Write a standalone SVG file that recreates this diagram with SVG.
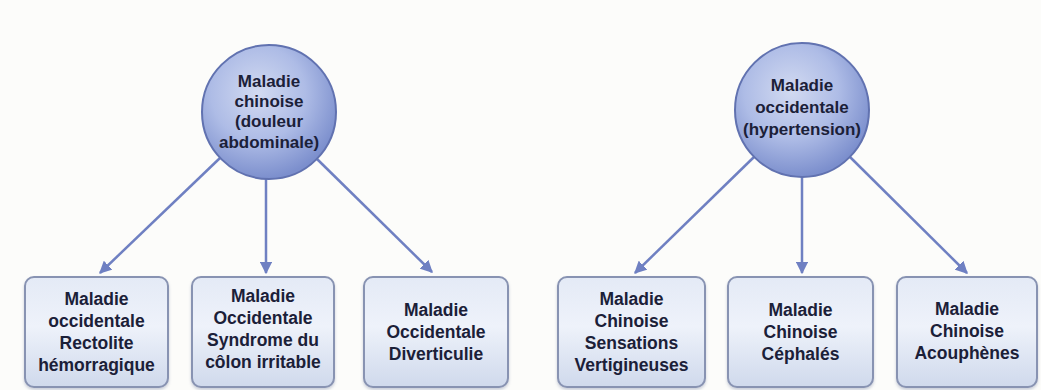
<svg xmlns="http://www.w3.org/2000/svg" width="1041" height="390" viewBox="0 0 1041 390">
  <defs>
    <radialGradient id="gCircle" cx="0.42" cy="0.36" r="0.64">
      <stop offset="0" stop-color="#d2daf1"/>
      <stop offset="0.55" stop-color="#aebce6"/>
      <stop offset="1" stop-color="#7c8fcd"/>
    </radialGradient>
    <linearGradient id="gBox" x1="0" y1="0" x2="0" y2="1">
      <stop offset="0" stop-color="#e4eaf6"/>
      <stop offset="0.45" stop-color="#eef2fa"/>
      <stop offset="1" stop-color="#cfd9ec"/>
    </linearGradient>
    <filter id="shadow" x="-10%" y="-10%" width="120%" height="125%">
      <feDropShadow dx="0" dy="2" stdDeviation="1.5" flood-color="#8a94b0" flood-opacity="0.45"/>
    </filter>
    <marker id="arrow" viewBox="0 0 10 10" refX="9" refY="5" markerWidth="5" markerHeight="5" markerUnits="strokeWidth" orient="auto">
      <path d="M0,0 L10,5 L0,10 z" fill="#6f80c2"/>
    </marker>
  </defs>
  <style>
    .circle { fill: url(#gCircle); stroke: #6172b0; stroke-width: 2; }
    .box { fill: url(#gBox); stroke: #8893b2; stroke-width: 2; filter: url(#shadow); }
    .conn { stroke: #6f80c2; stroke-width: 2.5; fill: none; marker-end: url(#arrow); }
    text { font-family: "Liberation Sans", Arial, sans-serif; font-weight: bold; fill: #1b2038; text-anchor: middle; }
    .t { font-size: 17.5px; }
    .c { font-size: 17px; }
  </style>
  <rect width="1041" height="390" fill="#fcfcfa"/>

  <g id="connectors">
    <line class="conn" x1="220" y1="158" x2="100" y2="273"/>
    <line class="conn" x1="266" y1="179" x2="266" y2="273"/>
    <line class="conn" x1="317" y1="159" x2="432" y2="272"/>
    <line class="conn" x1="754" y1="157" x2="635" y2="273"/>
    <line class="conn" x1="802" y1="177" x2="802" y2="273"/>
    <line class="conn" x1="850" y1="157" x2="967" y2="273"/>
  </g>

  <g id="node-chinese">
    <circle class="circle" cx="269" cy="112" r="67"/>
    <text class="c" x="269" y="87">Maladie</text>
    <text class="c" x="269" y="107">chinoise</text>
    <text class="c" x="269" y="127">(douleur</text>
    <text class="c" x="269" y="148">abdominale)</text>
  </g>

  <g id="node-western">
    <circle class="circle" cx="802" cy="110" r="67"/>
    <text class="c" x="802" y="91">Maladie</text>
    <text class="c" x="802" y="113">occidentale</text>
    <text class="c" x="802" y="135">(hypertension)</text>
  </g>

  <g id="node-b1">
    <rect class="box" x="25" y="277" width="143" height="110" rx="9"/>
    <text class="t" x="96.5" y="305">Maladie</text>
    <text class="t" x="96.5" y="327">occidentale</text>
    <text class="t" x="96.5" y="349">Rectolite</text>
    <text class="t" x="96.5" y="371">hémorragique</text>
  </g>

  <g id="node-b2">
    <rect class="box" x="192" y="277" width="142" height="110" rx="9"/>
    <text class="t" x="263" y="302">Maladie</text>
    <text class="t" x="263" y="324">Occidentale</text>
    <text class="t" x="263" y="346">Syndrome du</text>
    <text class="t" x="263" y="368">côlon irritable</text>
  </g>

  <g id="node-b3">
    <rect class="box" x="364" y="277" width="144" height="110" rx="9"/>
    <text class="t" x="436" y="316">Maladie</text>
    <text class="t" x="436" y="338">Occidentale</text>
    <text class="t" x="436" y="360">Diverticulie</text>
  </g>

  <g id="node-b4">
    <rect class="box" x="558" y="277" width="147" height="110" rx="9"/>
    <text class="t" x="631.5" y="305">Maladie</text>
    <text class="t" x="631.5" y="327">Chinoise</text>
    <text class="t" x="631.5" y="349">Sensations</text>
    <text class="t" x="631.5" y="371">Vertigineuses</text>
  </g>

  <g id="node-b5">
    <rect class="box" x="728" y="277" width="145" height="110" rx="9"/>
    <text class="t" x="800.5" y="316">Maladie</text>
    <text class="t" x="800.5" y="338">Chinoise</text>
    <text class="t" x="800.5" y="360">Céphalés</text>
  </g>

  <g id="node-b6">
    <rect class="box" x="897" y="277" width="140" height="110" rx="9"/>
    <text class="t" x="967" y="315">Maladie</text>
    <text class="t" x="967" y="337">Chinoise</text>
    <text class="t" x="967" y="359">Acouphènes</text>
  </g>
</svg>
